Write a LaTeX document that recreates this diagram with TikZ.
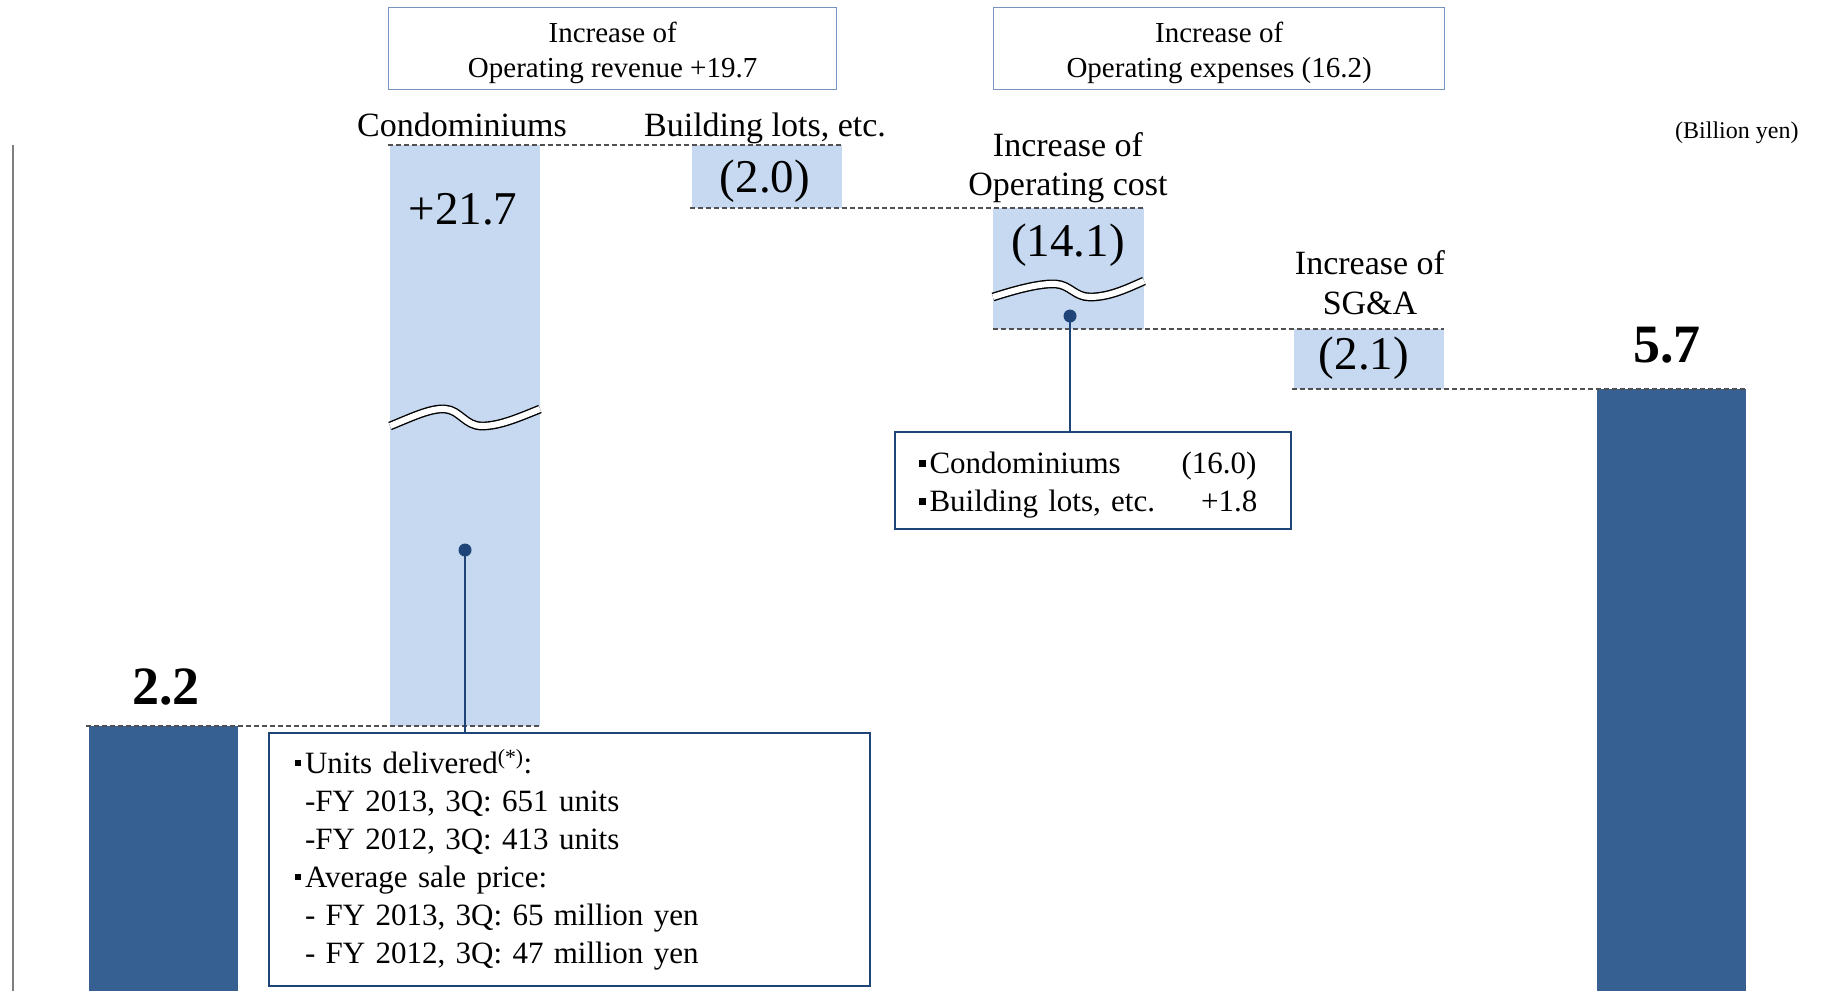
\documentclass[tikz,border=0pt]{standalone}
\usepackage{fontspec}
\setmainfont{Liberation Serif}
\usetikzlibrary{positioning}

\definecolor{BarNavy}{RGB}{54,96,146}
\definecolor{BarSky}{RGB}{198,217,240}
\definecolor{NoteNavy}{RGB}{31,68,120}
\definecolor{HeadBlue}{RGB}{118,146,190}
\definecolor{GuideGray}{RGB}{80,80,80}

\newcommand{\sqbul}{\leavevmode\llap{\rule[0.22em]{0.21em}{0.21em}\hspace{0.12em}}}

\begin{document}
\begin{tikzpicture}[x=1pt, y=-1pt,
    guide/.style={GuideGray, line width=1.5pt, dash pattern=on 5pt off 3pt},
    wave/.style={black, line width=1.4pt, double=white, double distance=6pt},
    pin/.style={NoteNavy, line width=2pt},
    headbox/.style={draw=HeadBlue, line width=1.3pt, align=center, anchor=north west, inner sep=0pt, font=\fontsize{29}{35}\selectfont},
    notebox/.style={draw=NoteNavy, line width=2pt, align=left, anchor=north west, inner ysep=0pt, font=\fontsize{31}{38}\selectfont},
    catlabel/.style={anchor=base, font=\fontsize{34}{40}\selectfont},
    steplabel/.style={anchor=base, font=\fontsize{47}{56}\selectfont},
    totallabel/.style={anchor=base, font=\bfseries\fontsize{54}{64}\selectfont}]
    \useasboundingbox (0,0) rectangle (1821,991);

    % Draw the bars
    \fill[BarNavy] (89,726) rectangle (238,991);    % FY 2012, 3Q
    \fill[BarSky] (390,145) rectangle (540,726);    % Condominiums
    \fill[BarSky] (692,145) rectangle (842,208);    % Building lots
    \fill[BarSky] (993,208) rectangle (1144,329);   % Operating cost
    \fill[BarSky] (1294,329) rectangle (1444,389);  % SG&A
    \fill[BarNavy] (1597,389) rectangle (1746,991); % FY 2013, 3Q

    % Dashed steps between the bars
    \draw[guide] (86,726) -- (540,726);
    \draw[guide] (388,145) -- (842,145);
    \draw[guide] (690,208) -- (1144,208);
    \draw[guide] (993,329) -- (1444,329);
    \draw[guide] (1292,389) -- (1746,389);

    % Axis on the left
    \draw[gray, line width=2.5pt] (13,145) -- (13,991);

    % Breaks in the long bars
    \draw[wave] (390,426) .. controls (410,418) and (430,408) .. (445,409)
                .. controls (460,410) and (465,426) .. (482,426)
                .. controls (500,426) and (520,417) .. (540,409);
    \draw[wave] (993,297) .. controls (1015,290) and (1040,283) .. (1056,284)
                .. controls (1070,285) and (1075,297) .. (1090,297)
                .. controls (1110,297) and (1128,288) .. (1144,281);

    % Headings
    \node[headbox, minimum width=448pt, minimum height=82pt] (revbox) at (388,7) {\rule{0pt}{28pt}Increase of\\Operating revenue +19.7};
    \node[headbox, minimum width=451pt, minimum height=82pt] (expbox) at (993,7) {\rule{0pt}{28pt}Increase of\\Operating expenses (16.2)};
    \node[anchor=base east, font=\fontsize{24}{28}\selectfont] (unitlbl) at (1802,138) {(Billion yen)};

    % Labels of the bars
    \node[catlabel] (condolbl) at (462,136) {Condominiums};
    \node[catlabel] (lotslbl) at (765,136) {Building lots, etc.};
    \node[catlabel] (costlbl) at (1068,156) {Increase of};
    \node[catlabel] (costlbltwo) at (1068,195) {Operating cost};
    \node[catlabel] (sgalbl) at (1370,274) {Increase of};
    \node[catlabel] (sgalbltwo) at (1370,314) {SG\&A};

    % Values
    \node[totallabel] (startval) at (166,704) {2.2};
    \node[steplabel] (condoval) at (463,224) {+21.7};
    \node[steplabel] (lotsval) at (765,192) {(2.0)};
    \node[steplabel] (costval) at (1068,256) {(14.1)};
    \node[steplabel] (sgaval) at (1364,369) {(2.1)};
    \node[totallabel] (endval) at (1667,362) {5.7};

    % Notes and their pins
    \node[notebox, minimum width=601pt, minimum height=253pt, inner xsep=36pt, text width=529pt] (condonote) at (268,732)
      {\sqbul Units delivered\textsuperscript{(*)}:\\
       -FY 2013, 3Q: 651 units\\
       -FY 2012, 3Q: 413 units\\
       \sqbul Average sale price:\\
       - FY 2013, 3Q: 65 million yen\\
       - FY 2012, 3Q: 47 million yen};
    \node[notebox, minimum width=396pt, minimum height=97pt, inner xsep=34.5pt, text width=327pt] (costnote) at (894,431)
      {\sqbul\rule{0pt}{31pt}Condominiums\hfill(16.0)\\
       \sqbul Building lots, etc.\hspace{46pt}\rlap{+1.8}};
    \coordinate (condodot) at (465,550);
    \coordinate (costdot) at (1070,316);
    \draw[pin] (condodot) -- (condodot |- condonote.north);
    \draw[pin] (costdot) -- (costdot |- costnote.north);
    \fill[NoteNavy] (condodot) circle[radius=6.5pt];
    \fill[NoteNavy] (costdot) circle[radius=6.5pt];
\end{tikzpicture}
\end{document}
